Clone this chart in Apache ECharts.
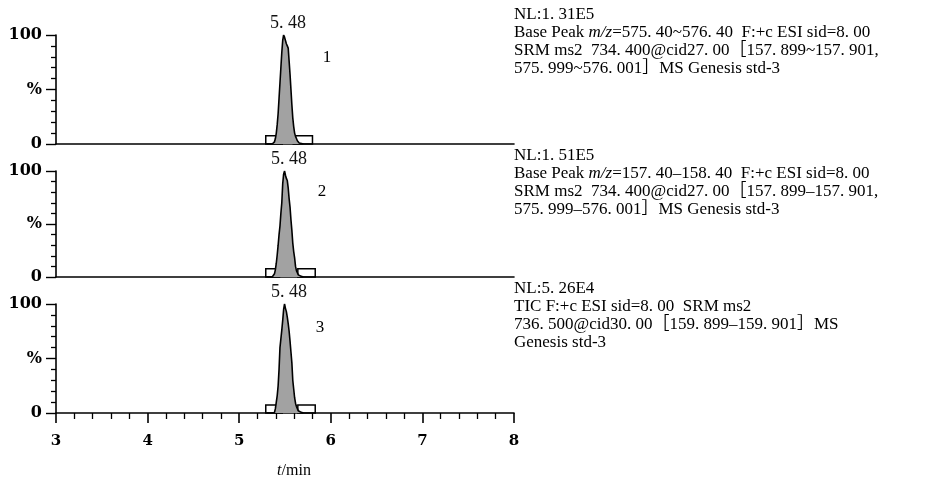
<!DOCTYPE html>
<html>
<head>
<meta charset="utf-8">
<script src="https://cdn.jsdelivr.net/npm/echarts@6/dist/echarts.min.js"></script>
<style>html,body{margin:0;padding:0;background:#fff;}#c{width:929px;height:482px;}</style>
</head>
<body>
<div id="c"></div>
<script>
// ---- data ----
const time = [5.30,5.36,5.37,5.38,5.39,5.40,5.41,5.42,5.43,5.44,5.45,5.46,5.47,5.48,5.49,5.50,5.51,5.52,5.53,5.54,5.55,5.56,5.57,5.58,5.59,5.60,5.61,5.62,5.63,5.64,5.65,5.66,5.68,5.70];
const pct1 = [0,0,0.5,1,2,5,10,18,28,42,56,70,84,95,100,98,95,92,90,88,76,64,50,36,24,16,10,7,5,3,2,1,0.5,0];
const pct2 = [0,0,0.5,1,3,7,13,21,30,40,48,60,70,88,97,100,96,93,91,84,74,66,54,44,32,24,18,10,6,4,2,1,0.5,0];
const pct3 = [0,0,0,0.5,1,4,10,16,25,40,60,68,76,85,95,100,96,93,88,82,75,66,56,46,30,22,14,9,6,4,2,1,0.5,0];
const peakRT = ['5. 48','5. 48','5. 48'];
const peakApex = [5.49, 5.50, 5.50];
// integration boxes: [start, end, height%]
const boxes1 = [[5.29,5.47,7.5],[5.59,5.80,7.5]];
const boxes2 = [[5.29,5.44,7.8],[5.64,5.83,7.8]];
const boxes3 = [[5.29,5.47,7.3],[5.64,5.83,7.3]];
const xTicks = ['3','4','5','6','7','8'];
const yTickLabels = {0:'0',50:'%',100:'100'};
const panelNo = ['1','2','3'];
const info1 = ['NL:1. 31E5','Base Peak {i|m/z}=575. 40~576. 40  F:+c ESI sid=8. 00','SRM ms2  734. 400@cid27. 00\uFF3B157. 899~157. 901,','575. 999~576. 001\uFF3DMS Genesis std-3'];
const info2 = ['NL:1. 51E5','Base Peak {i|m/z}=157. 40\u2013158. 40  F:+c ESI sid=8. 00','SRM ms2  734. 400@cid27. 00\uFF3B157. 899\u2013157. 901,','575. 999\u2013576. 001\uFF3DMS Genesis std-3'];
const info3 = ['NL:5. 26E4','TIC F:+c ESI sid=8. 00  SRM ms2','736. 500@cid30. 00\uFF3B159. 899\u2013159. 901\uFF3DMS','Genesis std-3'];

const series = [pct1,pct2,pct3];
const boxes = [boxes1,boxes2,boxes3];
const infos = [info1,info2,info3];

const serif = '"Liberation Serif","Times New Roman","Noto Sans CJK SC",serif';
const grids = [
  {left:56, width:458, top:35, height:109},
  {left:56, width:458, top:171, height:106},
  {left:56, width:458, top:304, height:109}
];
const infoTop = [14.5, 156, 289];
const pitch = 18;
const noPos = [[327,58],[322,192],[320,328]];

const xAxes = grids.map((g,i)=>({
  type:'value', gridIndex:i, min:3, max:8, interval:1,
  axisLine:{show:true, lineStyle:{color:'#000', width:1.6}},
  axisTick:{show:i===2, inside:false, length:10, lineStyle:{color:'#000', width:1.6}},
  minorTick:{show:i===2, splitNumber:5, length:6, lineStyle:{color:'#000', width:1.3}},
  axisLabel:{show:i===2, margin:21, color:'#000', fontFamily:'"DejaVu Serif",serif', fontWeight:'bold', fontSize:15,
    formatter:(v)=>xTicks[Math.round(v-3)]},
  splitLine:{show:false},
  name: i===2 ? '{it|t}/min' : '',
  nameLocation:'middle', nameGap:50,
  nameTextStyle:{fontFamily:serif, fontSize:16, color:'#000', padding:[0,0,0,18],
    rich:{it:{fontStyle:'italic', fontFamily:serif, fontSize:16, color:'#000'}}}
}));
const yAxes = grids.map((g,i)=>({
  type:'value', gridIndex:i, min:0, max:100, interval:50,
  axisLine:{show:true, lineStyle:{color:'#000', width:1.6}},
  axisTick:{show:true, inside:false, length:10, lineStyle:{color:'#000', width:1.4}},
  minorTick:{show:true, splitNumber:5, length:5, lineStyle:{color:'#000', width:1.3}},
  axisLabel:{show:true, margin:14, color:'#000', fontFamily:'"DejaVu Serif",serif', fontWeight:'bold', fontSize:16,
    formatter:(v)=>yTickLabels[v] || ''},
  splitLine:{show:false}
}));

const chartSeries = series.map((vals,i)=>({
  type:'line', xAxisIndex:i, yAxisIndex:i, z:3,
  data: time.map((t,k)=>[t, vals[k]]),
  step:'middle', showSymbol:false, symbol:'none',
  lineStyle:{color:'#000', width:1.6},
  areaStyle:{color:'#a2a2a2', opacity:1},
  markArea:{silent:true, z:2,
    itemStyle:{color:'rgba(255,255,255,0)', borderColor:'#000', borderWidth:1.5},
    data: boxes[i].map(b=>[{xAxis:b[0], yAxis:0},{xAxis:b[1], yAxis:b[2]}])},
  markPoint:{silent:true, symbol:'circle', symbolSize:0,
    data:[{coord:[peakApex[i],100], value:peakRT[i]}],
    label:{show:true, position:'top', distance:3, offset:[4,0], formatter:peakRT[i],
      fontFamily:serif, fontSize:18, color:'#111'}}
}));

const graphics = [];
infos.forEach((lines,i)=>{
  lines.forEach((txt,k)=>{
    graphics.push({type:'text', x:514, y:infoTop[i] + k*pitch,
      style:{text:txt, fill:'#000', font:'17px '+serif, verticalAlign:'middle', align:'left',
        rich:{i:{fontStyle:'italic', fontFamily:serif, fontSize:17, fill:'#000'}}}});
  });
  graphics.push({type:'text', x:noPos[i][0], y:noPos[i][1],
    style:{text:panelNo[i], fill:'#000', font:'17px '+serif, verticalAlign:'middle', align:'center'}});
});

const chart = echarts.init(document.getElementById('c'), null, {renderer:'canvas'});
chart.setOption({
  animation:false,
  backgroundColor:'#fff',
  grid:grids,
  xAxis:xAxes,
  yAxis:yAxes,
  series:chartSeries,
  graphic:graphics
});
</script>
</body>
</html>
